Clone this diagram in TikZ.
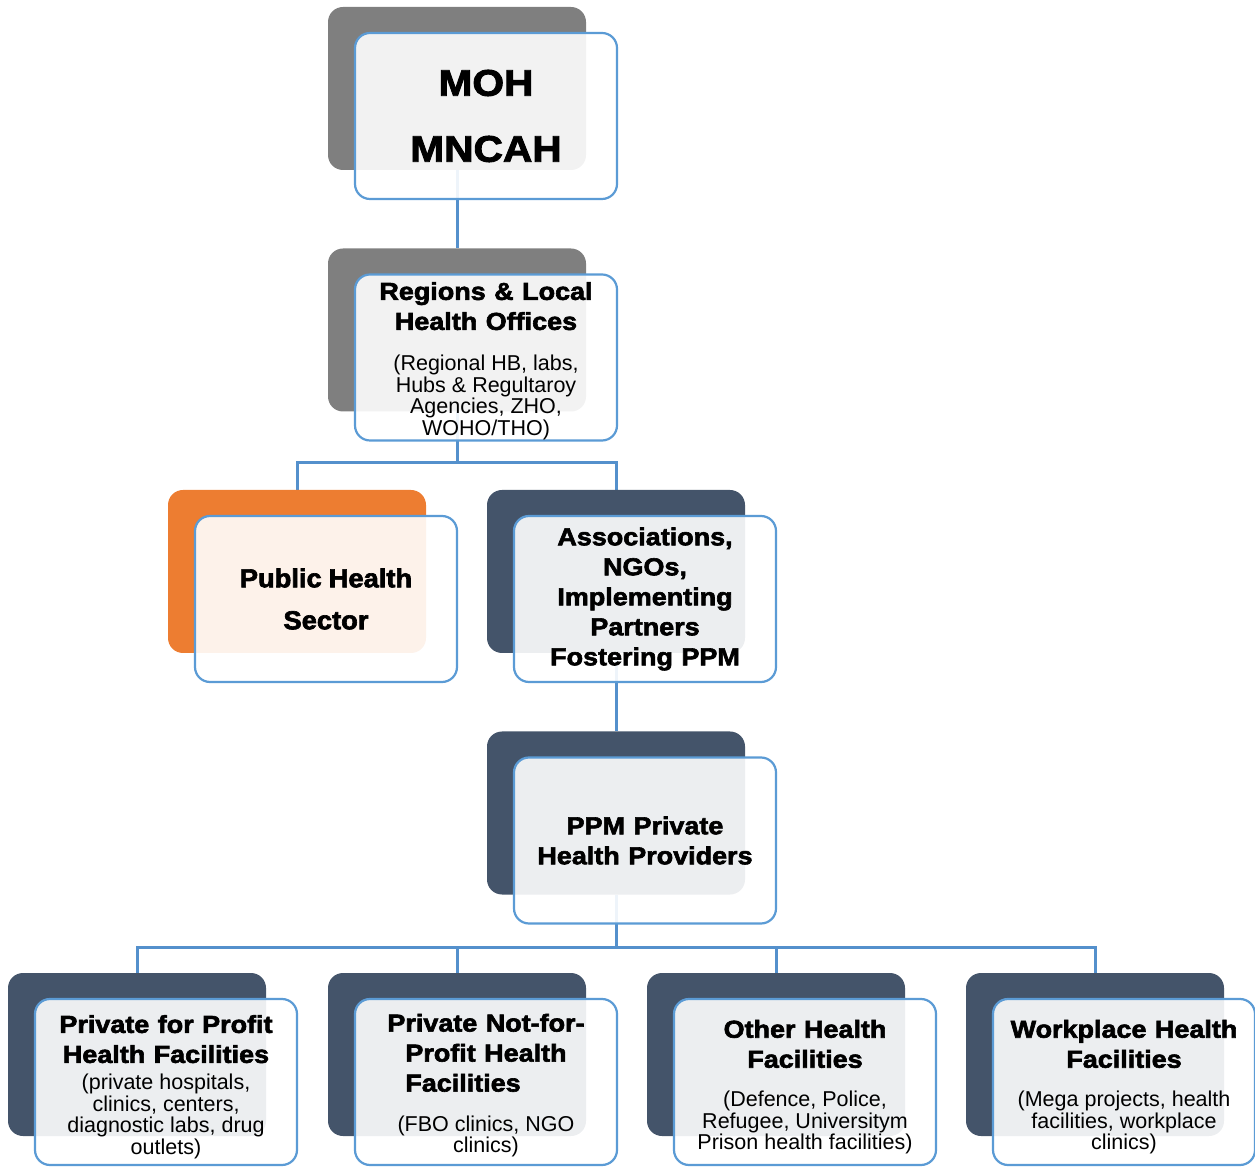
\documentclass[tikz,border=0pt]{standalone}
\usepackage{fontspec}
\setmainfont{Liberation Sans}
\font\headfont="Liberation Sans/B:embolden=2.5;extend=1.1" at 24.5pt
\font\mohfont="Liberation Sans/B:embolden=2.5;extend=1.1" at 37pt
\font\pubfont="Liberation Sans/B:embolden=2.5;extend=1.05" at 26pt
\usetikzlibrary{backgrounds}
\definecolor{boxgray}{HTML}{7F7F7F}
\definecolor{boxorange}{HTML}{ED7D31}
\definecolor{boxslate}{HTML}{44546A}
\definecolor{edgeblue}{HTML}{5B9BD5}
\definecolor{linkblue}{HTML}{5490CC}
\tikzset{
  backbox/.style={rounded corners=15pt, minimum width=258pt, minimum height=163pt, inner sep=0pt},
  frontbox/.style={draw=edgeblue, line width=2.2pt, fill=white, fill opacity=0.9, text opacity=1,
    rounded corners=15pt, minimum width=262pt, minimum height=166pt, inner sep=0pt,
    text width=255pt, align=center},
  link/.style={draw=linkblue, line width=3pt}
}
\newcommand{\toppad}[1][25]{\rule{0pt}{#1pt}}
\newcommand{\heading}[1]{{\headfont\baselineskip=30pt\spaceskip=8.5pt #1\par}}
\newcommand{\detail}[2]{\vspace{#1pt}{\fontsize{21.5}{21.7}\selectfont\spaceskip=6pt #2\par}}
\newcommand{\unitbox}[5]{ \node[backbox, fill=#4] (#1) at ( #2 , #3 ) {}; \node[frontbox] (#1f) at ( #2 + 29 , #3 - 27.5 ) {#5};}

\begin{document}
\begin{tikzpicture}[x=1pt, y=1pt]
        \useasboundingbox (0,0) rectangle (1255,1168);
        % top
        \unitbox{moh}{457}{1079.5}{boxgray}{{\mohfont\baselineskip=66pt MOH\\MNCAH\par}}
        \unitbox{reg}{457}{838}{boxgray}{\toppad\heading{Regions \& Local\\Health Offices}\detail{19}{(Regional HB, labs,\\Hubs \& Regultaroy\\Agencies, ZHO,\\WOHO/THO)}}
        % middle
        \unitbox{pub}{297}{596.5}{boxorange}{{\pubfont\baselineskip=42pt\spaceskip=7pt Public Health\\Sector\par}}
        \unitbox{assoc}{616}{596.5}{boxslate}{\heading{Associations,\\NGOs,\\Implementing\\Partners\\Fostering PPM}}
        \unitbox{ppm}{616}{355}{boxslate}{\heading{PPM Private\\Health Providers}}
        % bottom row
        \unitbox{forprofit}{137}{113.5}{boxslate}{\toppad[28]\heading{Private for Profit\\Health Facilities}\detail{5}{(private hospitals,\\clinics, centers,\\diagnostic labs, drug\\outlets)}}
        \unitbox{notprofit}{457}{113.5}{boxslate}{\toppad\heading{Private Not-for-\\Profit Health\\Facilities\hspace*{46pt}}\detail{18}{(FBO clinics, NGO\\clinics)}}
        \unitbox{other}{776}{113.5}{boxslate}{\toppad[28]\heading{Other Health\\Facilities}\detail{17}{(Defence, Police,\\Refugee, Universitym\\Prison health facilities)}}
        \unitbox{work}{1095}{113.5}{boxslate}{\toppad[28]\heading{Workplace Health\\Facilities}\detail{17}{(Mega projects, health\\facilities, workplace\\clinics)}}
        % connectors
        \begin{pgfonlayer}{background}
        \coordinate (fork1) at (0,705);
        \coordinate (fork2) at (0,221);
        \draw[link] (moh) -- (reg);
        \draw[link] (reg) -- (reg |- fork1) -| (pub);
        \draw[link] (reg |- fork1) -| (assoc);
        \draw[link] (assoc) -- (ppm);
        \draw[link] (ppm) -- (ppm |- fork2) -| (forprofit);
        \draw[link] (ppm |- fork2) -| (notprofit);
        \draw[link] (ppm |- fork2) -| (other);
        \draw[link] (ppm |- fork2) -| (work);
        \end{pgfonlayer}
\end{tikzpicture}
\end{document}
